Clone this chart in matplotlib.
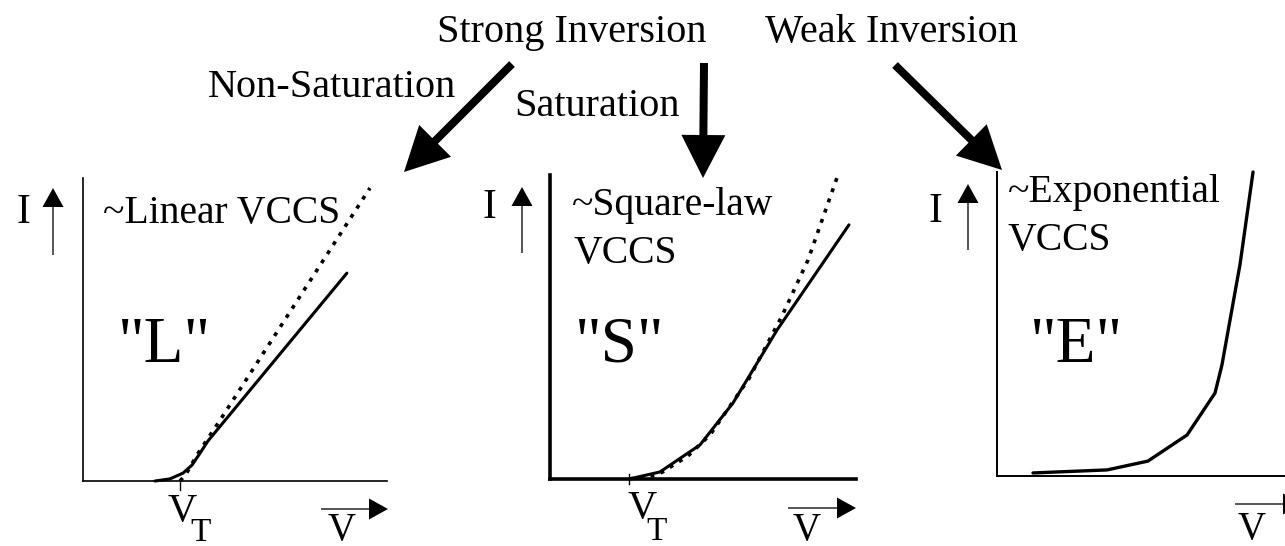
import numpy as np
import matplotlib
matplotlib.use("Agg")
import matplotlib.pyplot as plt
from matplotlib.patches import FancyArrow

plt.rcParams['font.family'] = ['Liberation Serif', 'DejaVu Serif']

# curves, V and I in arbitrary units (0..10 per panel)
lin_v = [2.37, 2.86, 3.29, 3.59, 3.85, 4.11, 8.68]
lin_i = [0.0, 0.07, 0.26, 0.53, 0.92, 1.32, 6.86]
lin_ideal_v = [3.19, 3.39, 3.75, 4.51, 9.44]
lin_ideal_i = [0.0, 0.23, 0.86, 2.01, 9.67]
lin_vt = 3.19

sq_v = [2.58, 3.59, 4.90, 5.98, 7.42, 9.77]
sq_i = [0.0, 0.23, 1.12, 2.50, 4.90, 8.36]
sq_ideal_v = [2.58, 3.5, 4.5, 5.23, 6.5, 7.58, 8.43, 9.41]
sq_ideal_i = [0.0, 0.12, 0.75, 1.45, 3.3, 5.36, 7.2, 10.0]
sq_vt = 2.58

exp_v = [1.25, 3.82, 5.24, 6.60, 7.57, 7.81, 8.44, 8.89]
exp_i = [0.10, 0.20, 0.49, 1.35, 2.73, 3.65, 6.97, 10.0]

W, H = 1285, 546
fig = plt.figure(figsize=(W / 100, H / 100), dpi=100)

# overlay in pixel units for labels and arrows
ax0 = fig.add_axes([0, 0, 1, 1])
ax0.set_xlim(0, W)
ax0.set_ylim(H, 0)
ax0.axis('off')


def panel(left, right, top, bottom, lw_axis):
    ax = fig.add_axes([left / W, 1 - bottom / H, (right - left) / W, (bottom - top) / H])
    ax.set_facecolor('none')
    ax.set_xlim(0, 10)
    ax.set_ylim(0, 10)
    ax.set_xticks([])
    ax.set_yticks([])
    ax.spines['top'].set_visible(False)
    ax.spines['right'].set_visible(False)
    ax.spines['left'].set_linewidth(lw_axis)
    ax.spines['bottom'].set_linewidth(lw_axis)
    return ax


dots = (0, (1.1, 1.9))

axL = panel(83, 387, 178, 481, 1.2)
axL.plot(lin_v, lin_i, color='black', lw=2.2, clip_on=False, solid_capstyle='round')
axL.plot(lin_ideal_v, lin_ideal_i, color='black', lw=2.6, ls=dots, clip_on=False)
axL.plot([lin_vt, lin_vt], [0, -0.3], color='black', lw=1.0, clip_on=False)

axS = panel(550, 856, 175, 479, 2.6)
axS.plot(sq_v, sq_i, color='black', lw=2.2, clip_on=False, solid_capstyle='round')
axS.plot(sq_ideal_v, sq_ideal_i, color='black', lw=2.6, ls=dots, clip_on=False)
axS.plot([sq_vt, sq_vt], [-0.17, 0.17], color='black', lw=1.0, clip_on=False)

axE = panel(997, 1285, 172, 476, 1.4)
axE.plot(exp_v, exp_i, color='black', lw=2.4, clip_on=False, solid_capstyle='round')


def arrow(x0, y0, x1, y1, w, hw, hl):
    ax0.add_patch(FancyArrow(x0, y0, x1 - x0, y1 - y0, width=w, head_width=hw,
                             head_length=hl, length_includes_head=True,
                             color='black', lw=0))


# big arrows from the regions to the panels
arrow(512, 64, 404, 172, 8, 45, 44)
arrow(704, 63, 703, 178, 8, 44, 43)
arrow(895, 65, 1002, 170, 8, 44, 43)

# I and V axis arrows
arrow(53, 255, 53, 188, 1.3, 21, 19)
arrow(522, 253, 522, 187, 1.3, 21, 19)
arrow(968, 250, 968, 184, 1.3, 21, 19)
arrow(321, 509, 388, 509, 1.3, 21, 19)
arrow(788, 508, 856, 508, 1.3, 21, 19)
arrow(1235, 504, 1302, 504, 1.3, 21, 19)

def label(x, y, s, size):
    ax0.text(x, y, s, fontsize=size, ha='left', va='baseline', color='black')


label(437, 42, 'Strong Inversion', 29)
label(765, 42, 'Weak Inversion', 29)
label(208, 97, 'Non-Saturation', 29)
label(514, 116, 'Saturation', 29)

label(17, 223, 'I', 30)
label(103, 223, '~Linear VCCS', 28.5)
label(118, 362, '"L"', 47)
label(168, 521, 'V', 29)
label(190, 541, 'T', 24)
label(328, 540, 'V', 28)

label(482, 218, 'I', 30)
label(572, 215, '~Square-law', 28.5)
label(573, 263, 'VCCS', 28.5)
label(575, 362, '"S"', 47)
label(627, 518, 'V', 29)
label(646, 540, 'T', 24)
label(793, 540, 'V', 28)

label(928, 222, 'I', 30)
label(1008, 202, '~Exponential', 28.5)
label(1008, 250, 'VCCS', 28.5)
label(1030, 362, '"E"', 47)
label(1238, 539, 'V', 28)

fig.savefig('out.png', dpi=100)
